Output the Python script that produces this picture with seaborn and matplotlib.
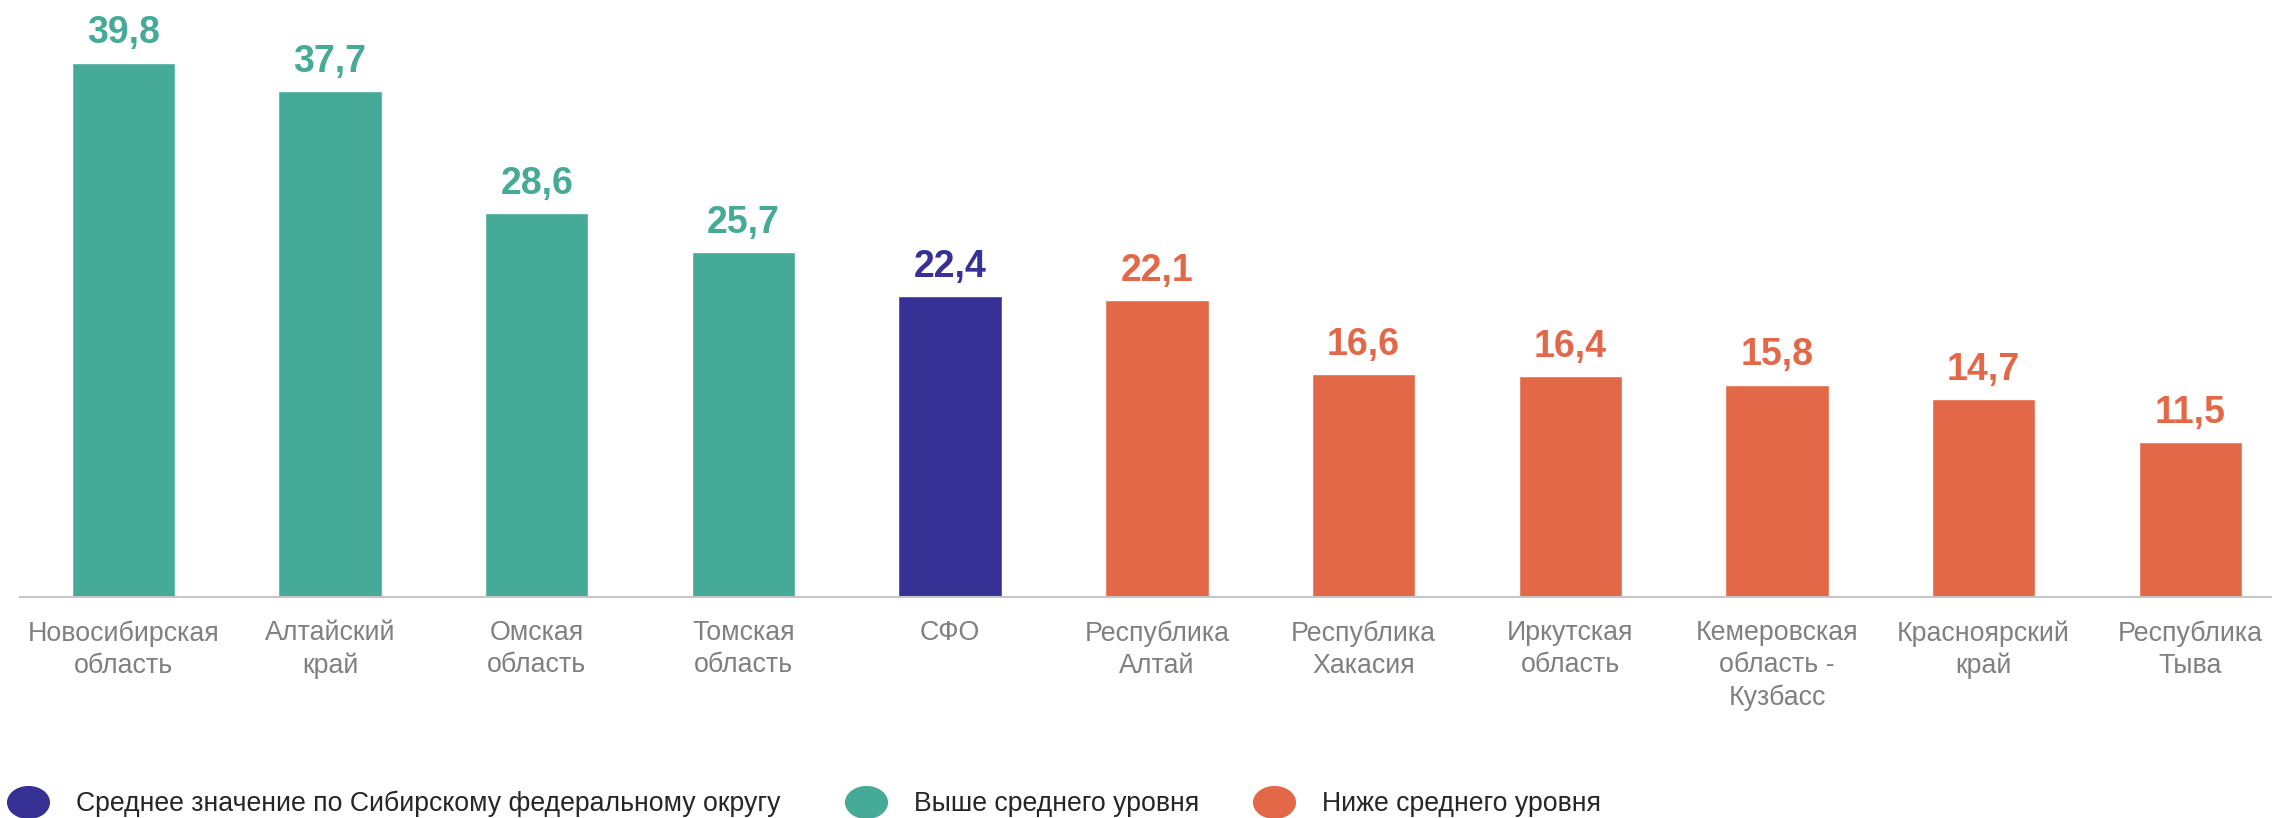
import matplotlib
matplotlib.use('Agg')
import pandas as pd
import matplotlib.pyplot as plt
import matplotlib.transforms as mtransforms
from matplotlib.lines import Line2D
from matplotlib.path import Path
import seaborn as sns

# data
regions = ['Новосибирская\nобласть', 'Алтайский\nкрай', 'Омская\nобласть', 'Томская\nобласть',
           'СФО', 'Республика\nАлтай', 'Республика\nХакасия', 'Иркутская\nобласть',
           'Кемеровская\nобласть -\nКузбасс', 'Красноярский\nкрай', 'Республика\nТыва']
values = [39.8, 37.7, 28.6, 25.7, 22.4, 22.1, 16.6, 16.4, 15.8, 14.7, 11.5]
groups = ['above'] * 4 + ['mean'] + ['below'] * 6

group_names = {
    'mean': 'Среднее значение по Сибирскому федеральному округу',
    'above': 'Выше среднего уровня',
    'below': 'Ниже среднего уровня',
}
palette = {'mean': '#373195', 'above': '#45AA98', 'below': '#E36848'}
hue_order = ['above', 'mean', 'below']

df = pd.DataFrame({'region': regions, 'value': values, 'group': groups})

sns.set_theme(style='white')
plt.rcParams['font.family'] = ['Liberation Sans', 'DejaVu Sans']

W, H = 2272, 818
fig = plt.figure(figsize=(W / 100, H / 100), dpi=100)
ax = fig.add_axes([20 / W, 1 - 596.5 / H, (W - 20) / W, 596.5 / H])

sns.barplot(data=df, x='region', y='value', hue='group', hue_order=hue_order,
            palette=palette, dodge=False, width=0.5, saturation=1,
            legend=False, ax=ax)

for grp, cont in zip(hue_order, ax.containers):
    labels = [f'{b.get_height():.1f}'.replace('.', ',') for b in cont]
    ax.bar_label(cont, labels=labels, padding=8, color=palette[grp],
                 fontsize=27, fontweight='bold')

ax.set_xlim(-0.5, -0.5 + (W - 20) / 206.7)
ax.set_ylim(0, 596.5 / 13.417)
ax.set_xlabel('')
ax.set_ylabel('')
ax.set_yticks([])
for s in ['top', 'right', 'left']:
    ax.spines[s].set_visible(False)
ax.spines['bottom'].set_color('#C6C6C6')
ax.spines['bottom'].set_linewidth(1.5)
ax.tick_params(axis='x', length=0, pad=17, labelsize=19.3, labelcolor='#808080')
for t in ax.get_xticklabels():
    t.set_linespacing(1.3)

# legend: three separate entries with oval markers
oval = Path.unit_circle().transformed(mtransforms.Affine2D().scale(1.3, 1.0))
legend_x = [6.5, 845, 1253]
for key, lx in zip(['mean', 'above', 'below'], legend_x):
    h = Line2D([], [], linestyle='', marker=oval, markersize=31,
               markerfacecolor=palette[key], markeredgewidth=0)
    fig.legend([h], [group_names[key]], loc='center left',
               bbox_to_anchor=(lx / W, 1 - 804 / H), frameon=False,
               fontsize=19.2, handlelength=1.59, handletextpad=1.0,
               borderpad=0, borderaxespad=0, labelcolor='#262626')

fig.savefig('out.png', dpi=100)
